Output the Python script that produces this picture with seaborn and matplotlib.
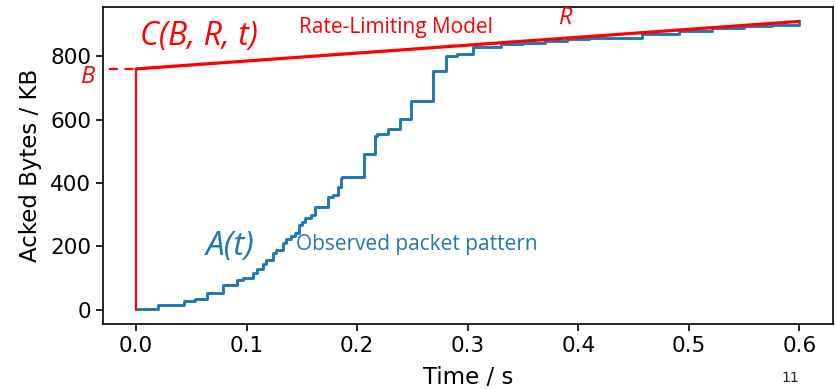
from matplotlib import pyplot as plt

import numpy as np

import pandas as pd

import seaborn as sns

# observed acked bytes (step curve)
time_s = [0.0, 0.02, 0.043, 0.053, 0.064, 0.079, 0.091, 0.097, 0.106, 0.109,
          0.115, 0.118, 0.124, 0.127, 0.133, 0.136, 0.140, 0.144, 0.147,
          0.150, 0.153, 0.158, 0.162, 0.174, 0.178, 0.183, 0.185, 0.186,
          0.206, 0.216, 0.218, 0.228, 0.239, 0.249, 0.269, 0.280, 0.290,
          0.305, 0.33, 0.35, 0.37, 0.39, 0.41, 0.458, 0.491, 0.521, 0.55,
          0.575, 0.6]
acked_kb = [3, 14, 26, 34, 52, 78, 92, 100, 116, 128,
            145, 157, 178, 189, 210, 222, 232, 242, 268,
            277, 290, 299, 324, 356, 362, 388, 415, 418,
            490, 548, 556, 570, 601, 660, 752, 802, 808,
            830, 838, 843, 848, 853, 858, 870, 881, 889, 895,
            900, 905]

# rate-limiting model C(B, R, t) = B + R*t
model_t = [0.0, 0.6]
burst_B = 760
rate_R = 250

df = pd.DataFrame({'t': time_s, 'kb': acked_kb})
model_df = pd.DataFrame({'t': model_t,
                         'kb': [burst_B + rate_R * t for t in model_t]})

sns.set_style('ticks')
plt.rcParams['font.family'] = ['DejaVu Sans']
plt.rcParams['text.color'] = 'black'
plt.rcParams['axes.labelcolor'] = 'black'
plt.rcParams['xtick.color'] = 'black'
plt.rcParams['ytick.color'] = 'black'

fig, ax = plt.subplots(figsize=(8.36, 3.89), dpi=100)
fig.subplots_adjust(left=0.123, right=0.996, top=0.982, bottom=0.167)

red = '#ff0000'
blue = '#1f77b4'

sns.lineplot(data=df, x='t', y='kb', ax=ax, color=blue, lw=2.1,
             drawstyle='steps-post', estimator=None, sort=False)
sns.lineplot(data=model_df, x='t', y='kb', ax=ax, color=red, lw=2.3,
             estimator=None, sort=False)
# vertical jump up to the burst size
ax.plot([0, 0], [0, burst_B], color=red, lw=1.6)
# dashed marker for B
ax.plot([-0.024, 0], [burst_B, burst_B], color=red, lw=1.6,
        ls=(0, (4, 3)), clip_on=False)

ax.set_xlim(-0.03, 0.63)
ax.set_ylim(-45.5, 955.5)
ax.set_xticks(np.arange(0, 0.61, 0.1))
ax.set_yticks([0, 200, 400, 600, 800])

ax.tick_params(labelsize=15.5, length=5, width=1.2, color='black',
               labelcolor='black')
for s in ax.spines.values():
    s.set_linewidth(1.2)
    s.set_color('black')

ax.set_xlabel('Time / s', fontsize=16.5, labelpad=7)
ax.set_ylabel('Acked Bytes / KB', fontsize=16.5, labelpad=6)

# annotations
ann_font = ['Open Sans', 'DejaVu Sans']
ax.text(0.004, 862, 'C(B, R, t)', color=red, fontsize=23, style='italic',
        family=ann_font, va='center', ha='left')
ax.text(-0.043, 734, 'B', color=red, fontsize=17, style='italic',
        family=ann_font, va='center', ha='center', clip_on=False)
ax.text(0.147, 890, 'Rate-Limiting Model', color=red, fontsize=15,
        family=ann_font, va='center', ha='left')
ax.text(0.389, 922, 'R', color=red, fontsize=17, style='italic',
        family=ann_font, va='center', ha='center')
ax.text(0.085, 198, 'A(t)', color=blue, fontsize=24, style='italic',
        family=ann_font, va='center', ha='center')
ax.text(0.145, 205, 'Observed packet pattern', color=blue, fontsize=15,
        family=ann_font, va='center', ha='left')

fig.text(0.945, 0.028, '11', fontsize=10, color='#222222',
         ha='center', va='center')

plt.savefig('out.png', dpi=100)
plt.close(fig)
